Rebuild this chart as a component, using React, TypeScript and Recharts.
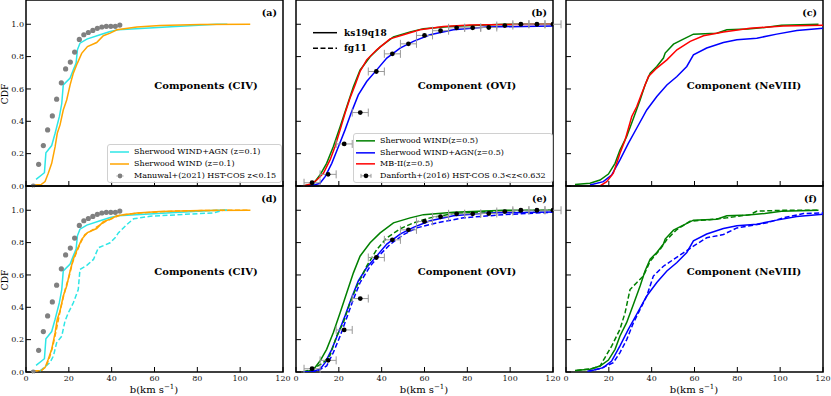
import React from 'react';
import { ComposedChart, Line, Scatter, ErrorBar, XAxis, YAxis, ReferenceArea } from 'recharts';

type P = [number, number];

// ---- X / Y ticks ----
const X_TICKS = [0, 20, 40, 60, 80, 100, 120];
const Y_TICKS = [0, 0.2, 0.4, 0.6, 0.8, 1.0];

// ---- CIV (z=0.1) ----
const civAgnKs: P[] = [[4.7,0.041],[8.6,0.082],[9.3,0.206],[12,0.25],[13.6,0.326],[15.6,0.43],[16.7,0.51],[17.4,0.625],[20.6,0.667],[22.1,0.718],[23.4,0.76],[24,0.842],[25.2,0.883],[28.4,0.908],[34.6,0.935],[39.3,0.955],[43.1,0.966],[65.7,0.983],[89,1.0],[94,1.0]];
const civWindKs: P[] = [[3.4,0.006],[7.2,0.01],[8.9,0.027],[10.4,0.079],[12,0.14],[13.6,0.243],[14.6,0.326],[15.9,0.378],[17.4,0.47],[19,0.532],[20.6,0.625],[22.1,0.698],[24,0.76],[26,0.82],[28.7,0.862],[33,0.887],[36.1,0.929],[39.3,0.945],[42.4,0.966],[51.8,0.983],[62.6,0.993],[81.3,0.998],[104.7,1.0]];
const civWindFg: P[] = [[3.4,0.004],[7.5,0.012],[9.5,0.04],[11,0.09],[12.5,0.16],[14,0.25],[15.5,0.35],[17,0.44],[18.5,0.52],[20.3,0.6],[21.8,0.68],[23.6,0.74],[25.5,0.8],[27.5,0.85],[30,0.87],[33.5,0.9],[37,0.93],[40.5,0.95],[44,0.97],[55,0.985],[70,0.995],[90,1.0],[104.7,1.0]];
const civAgnFg: P[] = [[6.5,0.006],[11.2,0.058],[12.8,0.099],[14.3,0.181],[16.7,0.222],[18.2,0.315],[19.8,0.367],[22.1,0.428],[24.4,0.51],[25.2,0.634],[28.4,0.659],[31.5,0.696],[33.8,0.768],[39.3,0.799],[41.6,0.83],[43.1,0.86],[47.1,0.912],[50.2,0.947],[58,0.963],[81.3,0.98],[87.5,0.984],[92.2,1.0],[94,1.0]];
const manuwalB = [3.4,5.9,8.1,10.1,12.3,14.3,16.5,18.5,20.7,22.7,24.9,27,29.1,31.2,33.3,35.4,37.5,39.6,41.7,43.8];
const manuwalCdf = [0.0,0.134,0.25,0.347,0.433,0.537,0.638,0.724,0.766,0.828,0.906,0.935,0.949,0.962,0.975,0.983,0.987,0.987,0.987,0.995];

// ---- OVI (z=0.5) ----
const oviWindKs: P[] = [[3.4,0],[8,0.012],[11.2,0.068],[14.3,0.14],[17.4,0.243],[20.6,0.367],[23.7,0.49],[26.8,0.613],[29.9,0.716],[34.6,0.799],[39.3,0.86],[45.5,0.922],[53.3,0.953],[59.5,0.973],[73.5,0.988],[97,1.0],[120,1.0]];
const oviAgnKs: P[] = [[3.4,0],[7.3,0.002],[11.2,0.017],[13.6,0.058],[16.7,0.14],[19.8,0.243],[22.9,0.347],[26,0.46],[29.1,0.563],[33,0.646],[37.7,0.718],[42.4,0.791],[48.6,0.853],[54.8,0.894],[62.6,0.935],[73.5,0.966],[89,0.983],[120,0.99]];
const oviMb2: P[] = [[3.4,0],[7.3,0.014],[9.7,0.037],[12.8,0.079],[15.9,0.161],[18.2,0.243],[20.6,0.347],[22.9,0.45],[25.2,0.543],[27.6,0.625],[29.9,0.708],[33,0.78],[37.7,0.842],[43.9,0.91],[50.2,0.935],[57.9,0.966],[68.8,0.986],[81.3,0.996],[120,1.0]];
const oviWindFg: P[] = [[3.4,0],[8.1,0.02],[12.8,0.058],[15.9,0.103],[19,0.222],[22.1,0.305],[25.2,0.428],[28.4,0.531],[33,0.654],[37.7,0.757],[42.4,0.83],[48.6,0.885],[54.8,0.922],[62.6,0.953],[73.5,0.98],[96.9,0.996],[120,1.0]];
const oviAgnFg: P[] = [[3.4,0],[9.7,0.005],[14.3,0.037],[17.4,0.12],[20.6,0.222],[23.7,0.336],[26.8,0.449],[29.9,0.552],[34.6,0.654],[39.3,0.727],[43.9,0.788],[50.2,0.85],[56.4,0.891],[65.7,0.922],[78.2,0.953],[96.9,0.973],[120,0.988]];
const danforthB = [7.5,15,22.5,30,37.5,45,52.5,60,67.5,75,82.5,90,97.5,105,112.5,120];
const danforthCdf = [0.02,0.072,0.26,0.454,0.708,0.817,0.879,0.931,0.96,0.978,0.978,0.98,0.992,1.0,1.0,1.0];
const danforthErr = [3.75,3.75,3.75,3.75,3.75,3.75,3.75,3.75,3.75,3.75,3.75,3.75,3.75,3.75,3.75,3.75];

// ---- NeVIII (z=0.5) ----
const neWindKs: P[] = [[4.2,0.01],[11.2,0.017],[15.9,0.037],[19.8,0.074],[22.9,0.14],[25.2,0.223],[28.3,0.305],[31.5,0.419],[34.6,0.532],[36.9,0.625],[39.3,0.698],[42.4,0.739],[45.5,0.791],[46.3,0.822],[50.2,0.877],[54.8,0.908],[59.5,0.939],[70.4,0.945],[75.1,0.966],[85,0.97],[92.8,0.98],[100.6,0.994],[117.9,1.0]];
const neAgnKs: P[] = [[11.2,0.006],[17.4,0.027],[21.3,0.068],[25.2,0.161],[29.1,0.264],[33,0.357],[37.7,0.47],[42.4,0.553],[47.1,0.625],[51.8,0.677],[56.4,0.739],[59.5,0.811],[65.7,0.853],[73.5,0.887],[79.8,0.904],[89.1,0.914],[98.4,0.939],[107.8,0.961],[120,0.975]];
const neMb2: P[] = [[15.9,0],[19,0.027],[22.1,0.079],[25.2,0.202],[27.6,0.285],[30.7,0.43],[33,0.49],[35.4,0.574],[38.5,0.677],[42.4,0.729],[47.1,0.78],[51.8,0.842],[58,0.894],[64.2,0.929],[73.5,0.952],[85.9,0.975],[101.4,0.99],[120,0.994]];
const neWindFg: P[] = [[5,0.01],[12,0.02],[15.9,0.037],[18.2,0.089],[21.3,0.16],[25.2,0.264],[27.6,0.367],[29.9,0.51],[33,0.552],[36.1,0.593],[39.3,0.685],[43.9,0.757],[47.1,0.819],[51.8,0.881],[57.9,0.932],[66.9,0.942],[75.1,0.953],[85.9,0.973],[89,0.994],[101.4,1.0],[118,1.0]];
const neAgnFg: P[] = [[10,0.005],[15.9,0.02],[22.1,0.058],[25.2,0.12],[28.4,0.202],[31.5,0.305],[34.6,0.387],[37.7,0.469],[40.8,0.593],[45.5,0.654],[50.2,0.696],[54.8,0.737],[59.5,0.778],[65.7,0.83],[73.5,0.85],[79.8,0.891],[93.8,0.922],[101.4,0.953],[110.9,0.98],[120,0.984]];

// ---- styles ----
const FONT = "'DejaVu Serif', serif";
const C_CYAN = '#2ee6e6';
const C_ORANGE = '#ffa500';
const C_GREEN = '#008000';
const C_BLUE = '#0000ff';
const C_RED = '#ff0000';
const C_GREY = '#808080';
const DASH = '5 2.5';

const COLS = [26, 296, 566];
const ROWS = [0, 186];
const PW = 257;
const PH = 186;
const ML = 30;
const MR = 14;

const toRows = (pts: P[]) => pts.map(([b, c]) => ({ b, c }));
const manuwal = manuwalB.map((b, i) => ({ b, c: manuwalCdf[i], e: 0.4 }));
const danforth = danforthB.map((b, i) => ({ b, c: danforthCdf[i], e: danforthErr[i] }));

const line = (key: string, pts: P[], color: string, dashed = false) => (
  <Line key={key} data={toRows(pts)} dataKey="c" type="linear" stroke={color} strokeWidth={1.5}
    strokeDasharray={dashed ? DASH : undefined} dot={false} activeDot={false} isAnimationActive={false} />
);

const greyDot = (p: any) => <circle cx={p.cx} cy={p.cy} r={2.6} fill={C_GREY} />;
const blackDot = (p: any) => <circle cx={p.cx} cy={p.cy} r={2.4} fill="#000" />;

const manuwalSeries = (
  <Scatter key="manuwal" data={manuwal} dataKey="c" shape={greyDot} isAnimationActive={false}>
    <ErrorBar dataKey="e" direction="x" width={2} stroke="#aaa" strokeWidth={0.8} />
  </Scatter>
);
const danforthSeries = (
  <Scatter key="danforth" data={danforth} dataKey="c" shape={blackDot} isAnimationActive={false}>
    <ErrorBar dataKey="e" direction="x" width={4} stroke="#999" strokeWidth={1} />
  </Scatter>
);

function Panel({ col, row, children }: { col: number; row: number; children: React.ReactNode }) {
  const left = COLS[col];
  const top = ROWS[row];
  const showY = col === 0;
  const showX = row === 1;
  return (
    <div style={{ position: 'absolute', left: left - ML, top: top - 5 }}>
      <ComposedChart width={PW + ML + MR} height={PH + 35} margin={{ top: 5, right: MR, left: 0, bottom: 0 }}>
        <XAxis type="number" dataKey="b" domain={[0, 120]} ticks={X_TICKS} height={30}
          axisLine={false} tickSize={-5} tickMargin={8} tickLine={{ stroke: '#000', strokeWidth: 1 }}
          tick={{ fontSize: 8, fill: '#111', fontFamily: FONT }}
          tickFormatter={(v: number) => (showX ? String(v) : '')} allowDataOverflow />
        <YAxis type="number" dataKey="c" domain={[0, 1.15]} ticks={Y_TICKS} width={ML}
          axisLine={false} tickSize={-5} tickMargin={7} tickLine={{ stroke: '#000', strokeWidth: 1 }}
          tick={{ fontSize: 8, fill: '#111', fontFamily: FONT }}
          tickFormatter={(v: number) => (showY ? v.toFixed(1) : '')} allowDataOverflow />
        {children}
        <ReferenceArea x1={0} x2={120} y1={0} y2={1.15} fill="none" fillOpacity={0} stroke="#000" strokeWidth={1.5} ifOverflow="visible" />
      </ComposedChart>
    </div>
  );
}

const abs = (style: React.CSSProperties): React.CSSProperties => ({ position: 'absolute', whiteSpace: 'nowrap', ...style });

function Title({ x, y, text }: { x: number; y: number; text: string }) {
  return <div style={abs({ left: x, top: y, transform: 'translate(-50%,-50%)', fontWeight: 'bold', fontSize: 10, lineHeight: '12px' })}>{text}</div>;
}
function Tag({ right, y, text }: { right: number; y: number; text: string }) {
  return <div style={abs({ left: right, top: y, transform: 'translate(-100%,-50%)', fontWeight: 'bold', fontSize: 9.5, lineHeight: '12px' })}>{text}</div>;
}
function XLabel({ x }: { x: number }) {
  return <div style={abs({ left: x, top: 390, transform: 'translate(-50%,-50%)', fontSize: 10, lineHeight: '12px' })}>b(km s<sup style={{ fontSize: 7, verticalAlign: 4, lineHeight: 0 }}>−1</sup>)</div>;
}
function YLabel({ y }: { y: number }) {
  return <div style={abs({ left: 5, top: y, transform: 'translate(-50%,-50%) rotate(-90deg)', fontSize: 9, lineHeight: '10px' })}>CDF</div>;
}

type LegItem = { label: string; color: string; kind: 'line' | 'grey' | 'black' };
function LegendBox({ left, top, width, rowH, items }: { left: number; top: number; width: number; rowH: number; items: LegItem[] }) {
  return (
    <div style={abs({ left, top, width, height: items.length * rowH + 3, border: '1px solid #d0d0d0', borderRadius: 3, background: 'rgba(255,255,255,0.85)', boxSizing: 'border-box' })}>
      {items.map((it, i) => (
        <div key={i} style={abs({ left: 0, top: 1 + i * rowH, height: rowH, width: width - 2 })}>
          <svg width={22} height={rowH} style={{ position: 'absolute', left: 2, top: 0 }}>
            {it.kind === 'line' && <line x1={0} x2={19} y1={rowH / 2} y2={rowH / 2} stroke={it.color} strokeWidth={1.5} />}
            {it.kind === 'grey' && (<g><line x1={6} x2={14} y1={rowH / 2} y2={rowH / 2} stroke="#bbb" strokeWidth={0.8} /><circle cx={10} cy={rowH / 2} r={2.4} fill={C_GREY} /></g>)}
            {it.kind === 'black' && (<g><line x1={5} x2={15} y1={rowH / 2} y2={rowH / 2} stroke="#999" strokeWidth={1} /><line x1={5} x2={5} y1={rowH / 2 - 2} y2={rowH / 2 + 2} stroke="#999" /><line x1={15} x2={15} y1={rowH / 2 - 2} y2={rowH / 2 + 2} stroke="#999" /><circle cx={10} cy={rowH / 2} r={2.4} fill="#000" /></g>)}
          </svg>
          <div style={abs({ left: 26, top: 0, fontSize: 8, lineHeight: rowH + 'px' })}>{it.label}</div>
        </div>
      ))}
    </div>
  );
}

export default function App() {
  return (
    <div style={{ position: 'absolute', left: 0, top: 0, width: 831, height: 396, background: '#fff', fontFamily: FONT, color: '#000', overflow: 'hidden' }}>
      <Panel col={0} row={0}>
        {[line('a1', civAgnKs, C_CYAN), line('a2', civWindKs, C_ORANGE), manuwalSeries]}
      </Panel>
      <Panel col={1} row={0}>
        {[line('b1', oviWindKs, C_GREEN), line('b2', oviAgnKs, C_BLUE), line('b3', oviMb2, C_RED), danforthSeries]}
      </Panel>
      <Panel col={2} row={0}>
        {[line('c1', neWindKs, C_GREEN), line('c2', neAgnKs, C_BLUE), line('c3', neMb2, C_RED)]}
      </Panel>
      <Panel col={0} row={1}>
        {[line('d1', civAgnKs, C_CYAN), line('d2', civWindKs, C_ORANGE), line('d3', civAgnFg, C_CYAN, true), line('d4', civWindFg, C_ORANGE, true), manuwalSeries]}
      </Panel>
      <Panel col={1} row={1}>
        {[line('e1', oviWindKs, C_GREEN), line('e2', oviAgnKs, C_BLUE), line('e3', oviWindFg, C_GREEN, true), line('e4', oviAgnFg, C_BLUE, true), danforthSeries]}
      </Panel>
      <Panel col={2} row={1}>
        {[line('f1', neWindKs, C_GREEN), line('f2', neAgnKs, C_BLUE), line('f3', neWindFg, C_GREEN, true), line('f4', neAgnFg, C_BLUE, true)]}
      </Panel>

      <Title x={206} y={86} text="Components (CIV)" />
      <Title x={467} y={86} text="Component (OVI)" />
      <Title x={744} y={86} text="Component (NeVIII)" />
      <Title x={206} y={272} text="Components (CIV)" />
      <Title x={467} y={272} text="Component (OVI)" />
      <Title x={744} y={272} text="Component (NeVIII)" />

      <Tag right={277} y={13} text="(a)" />
      <Tag right={547} y={13} text="(b)" />
      <Tag right={817} y={13} text="(c)" />
      <Tag right={277} y={199} text="(d)" />
      <Tag right={547} y={199} text="(e)" />
      <Tag right={817} y={199} text="(f)" />

      <XLabel x={154} />
      <XLabel x={424} />
      <XLabel x={694} />
      <YLabel y={94} />
      <YLabel y={280} />

      <LegendBox left={107} top={144} width={175} rowH={12} items={[
        { label: 'Sherwood WIND+AGN (z=0.1)', color: C_CYAN, kind: 'line' },
        { label: 'Sherwood WIND (z=0.1)', color: C_ORANGE, kind: 'line' },
        { label: 'Manuwal+(2021) HST-COS z<0.15', color: C_GREY, kind: 'grey' },
      ]} />
      <LegendBox left={353} top={133} width={200} rowH={11.7} items={[
        { label: 'Sherwood WIND(z=0.5)', color: C_GREEN, kind: 'line' },
        { label: 'Sherwood WIND+AGN(z=0.5)', color: C_BLUE, kind: 'line' },
        { label: 'MB-II(z=0.5)', color: C_RED, kind: 'line' },
        { label: 'Danforth+(2016) HST-COS 0.3<z<0.632', color: '#000', kind: 'black' },
      ]} />

      <svg width={30} height={60} style={{ position: 'absolute', left: 311, top: 20 }}>
        <line x1={2} x2={26} y1={12.7} y2={12.7} stroke="#000" strokeWidth={1.5} />
        <line x1={2} x2={26} y1={28.3} y2={28.3} stroke="#000" strokeWidth={1.5} strokeDasharray={DASH} />
      </svg>
      <div style={abs({ left: 344, top: 32.7, transform: 'translateY(-50%)', fontWeight: 'bold', fontSize: 9, lineHeight: '11px' })}>ks19q18</div>
      <div style={abs({ left: 344, top: 48.3, transform: 'translateY(-50%)', fontWeight: 'bold', fontSize: 9, lineHeight: '11px' })}>fg11</div>
    </div>
  );
}
